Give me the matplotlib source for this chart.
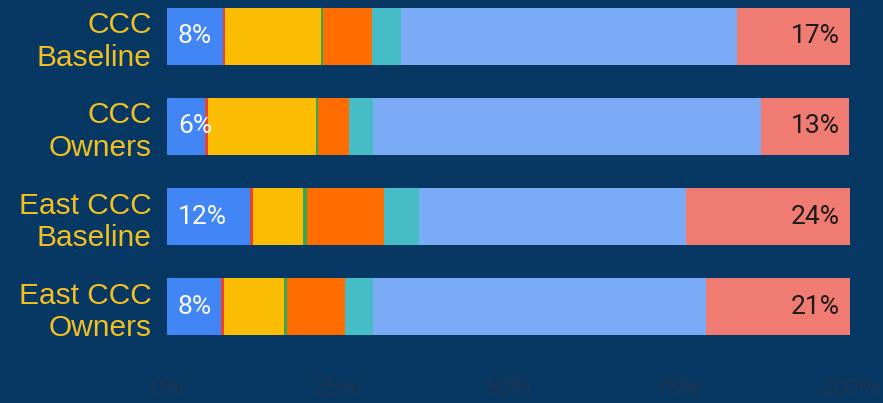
import numpy as np
import matplotlib.pyplot as plt

# categories, top to bottom
groups = ["CCC\nBaseline", "CCC\nOwners", "East CCC\nBaseline", "East CCC\nOwners"]

# segment shares (%), left to right
seg_blue = [8.2, 5.6, 12.2, 7.9]
seg_red = [0.3, 0.4, 0.4, 0.4]
seg_yellow = [14.0, 15.8, 7.3, 8.8]
seg_green = [0.3, 0.3, 0.6, 0.5]
seg_orange = [7.2, 4.5, 11.3, 8.5]
seg_teal = [4.2, 3.5, 5.1, 4.0]
seg_lightblue = [49.2, 56.8, 39.1, 48.8]
seg_salmon = [16.7, 13.0, 24.0, 21.1]

x_ticks = [0, 25, 50, 75, 100]
tick_labels = ["0%", "25%", "50%", "75%", "100%"]

colors = ["#4285F4", "#EA4335", "#FBBC04", "#34A853", "#FF6D01",
          "#46BDC6", "#7BAAF7", "#F07B72"]
bg = "#073763"

series = [seg_blue, seg_red, seg_yellow, seg_green, seg_orange,
          seg_teal, seg_lightblue, seg_salmon]

fig = plt.figure(figsize=(8.83, 4.03), dpi=100, facecolor=bg)
ax = fig.add_axes([167 / 883, 1 - 360 / 403, 683 / 883, 360 / 403])
ax.set_facecolor(bg)

y = np.arange(len(groups))
left = np.zeros(len(groups))
for vals, col in zip(series, colors):
    vals = np.array(vals)
    ax.barh(y, vals, left=left, height=0.63, color=col, linewidth=0)
    left += vals

# value labels on first and last segments
for i in range(len(groups)):
    ax.text(1.6, y[i], "{}%".format(int(round(seg_blue[i]))), color="white",
            va="center", ha="left", fontsize=19, family="Roboto")
    ax.text(98.5, y[i], "{}%".format(int(round(seg_salmon[i]))), color="#1a1a1a",
            va="center", ha="right", fontsize=19, family="Roboto")

ax.set_xlim(0, 100)
ax.set_ylim(3.594, -0.405)
ax.set_xticks(x_ticks)
ax.set_xticklabels(tick_labels, color="#1d3550", fontsize=16.5, family="Liberation Sans")
ax.set_yticks(y)
ax.set_yticklabels(groups, color="#F4C020", fontsize=21.5, family="Liberation Sans",
                   linespacing=1.2)
ax.tick_params(axis="both", length=0)
ax.tick_params(axis="y", pad=11)
ax.tick_params(axis="x", pad=12)
for s in ax.spines.values():
    s.set_visible(False)

fig.savefig("out.png", dpi=100, facecolor=bg)
